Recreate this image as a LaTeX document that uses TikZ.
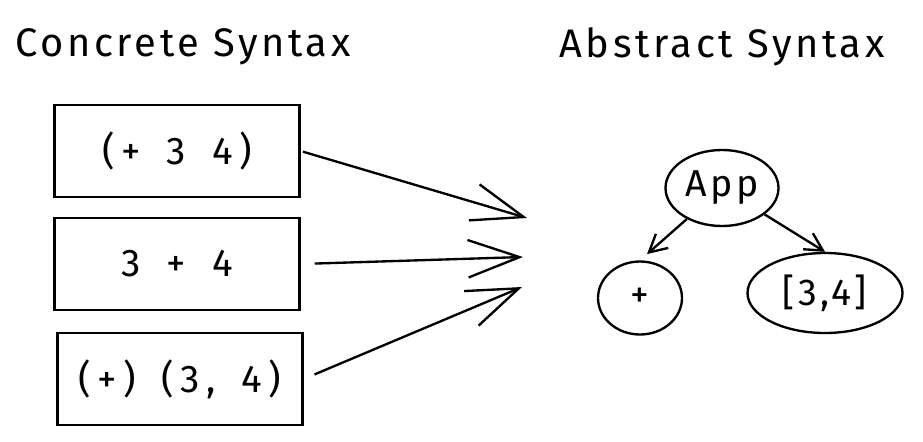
\documentclass[tikz,border=0pt]{standalone}
\usepackage{fontspec}
\setmainfont{Fira Sans}
\newfontfamily\sketchfont[LetterSpace=9]{Fira Sans}
\newfontfamily\widefont[LetterSpace=16,WordSpace=1.6]{Fira Sans}
\usetikzlibrary{arrows.meta,shapes.geometric}

\begin{document}
\begin{tikzpicture}[x=0.03cm,y=-0.03cm,
    title/.style={font=\sketchfont\fontsize{34}{38}\selectfont},
    syntaxbox/.style={draw,line width=2pt,minimum width=7.35cm,minimum height=2.75cm,font=\widefont\fontsize{33}{36}\selectfont},
    treenode/.style={draw,ellipse,line width=2pt,inner sep=0pt,font=\sketchfont\fontsize{32}{35}\selectfont},
    bigarrow/.style={line width=2pt,-{Straight Barb[length=44pt,width=32pt]}},
    smallarrow/.style={line width=2pt,-{Straight Barb[length=15pt,width=16pt]}}]
    \useasboundingbox (0,0) rectangle (923,441);
    \node[title] (concrete) at (183,47) {Concrete Syntax};
    \node[title] (abstract) at (722,47) {Abstract Syntax};
    % concrete forms
    \node[syntaxbox] (prefix) at (177,151) {(+ 3 4)};
    \node[syntaxbox] (infix) at (177,264) {3 + 4};
    \node[syntaxbox] (apply) at (180,379) {(+) (3, 4)};
    \coordinate (tipa) at (527,218);
    \coordinate (tipb) at (523,257);
    \coordinate (tipc) at (522,287);
    \draw[bigarrow, shorten <=2pt] (prefix.east) -- (tipa);
    \draw[bigarrow, shorten <=12pt] (infix.east) -- (tipb);
    \draw[bigarrow, shorten <=10pt] (apply.east) -- (tipc);
    % tree
    \node[treenode, minimum width=3.39cm, minimum height=2.28cm] (app) at (722,188) {App};
    \node[treenode, minimum width=2.52cm, minimum height=2.19cm] (plus) at (640,298) {+};
    \node[treenode, minimum width=4.65cm, minimum height=2.4cm] (list) at (825,293) {[3,4]};
    \draw[smallarrow, shorten >=8pt] (app) -- (plus.north);
    \draw[smallarrow] (app) -- (list.north);
\end{tikzpicture}
\end{document}
